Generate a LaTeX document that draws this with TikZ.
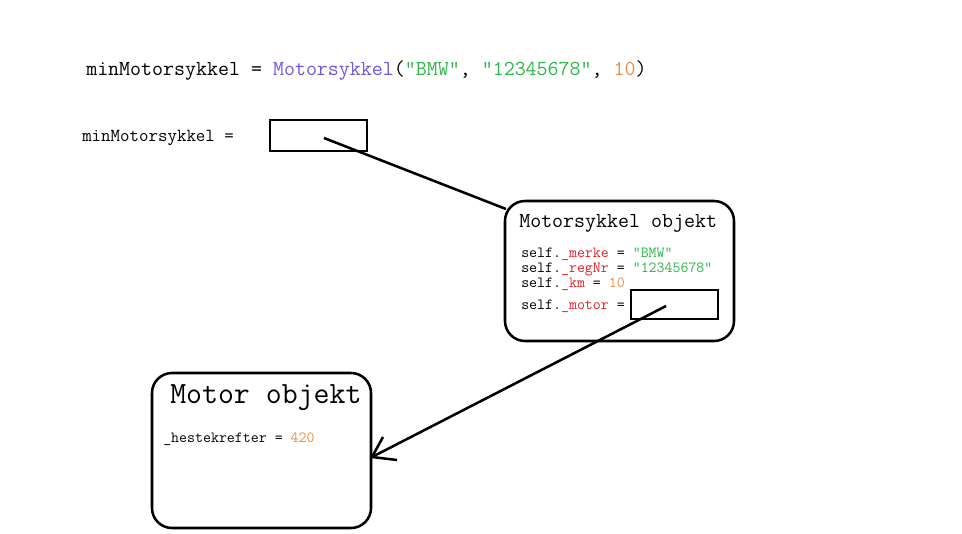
\documentclass[tikz,border=0pt]{standalone}
\usepackage{fontspec}
\definecolor{cls}{HTML}{6A5ADC}
\definecolor{str}{HTML}{2DB84B}
\definecolor{num}{HTML}{F28C3C}
\definecolor{attr}{HTML}{E8202A}
\newcommand\dq{\char34\relax}
\tikzset{
  txt/.style={inner sep=0pt, anchor=base west},
  box/.style={draw=black, line width=1.9pt},
  obj/.style={draw=black, line width=1.9pt, rounded corners=15pt},
  link/.style={line width=1.9pt}
}
\begin{document}
\begin{tikzpicture}[x=0.75pt,y=-0.75pt]
\useasboundingbox[fill=white] (0,0) rectangle (962,533);
% top line
\node[txt, font=\ttfamily\fontsize{16pt}{18pt}\selectfont] (call) at (86,75)
  {minMotorsykkel = \textcolor{cls}{Motorsykkel}(\textcolor{str}{\dq BMW\dq}, \textcolor{str}{\dq 12345678\dq}, \textcolor{num}{10})};
% reference variable
\node[txt, font=\ttfamily\fontsize{13.8pt}{16pt}\selectfont] (var) at (82,141) {minMotorsykkel =};
\draw[box] (270,120) rectangle (367,151);
\coordinate (refbox) at (324,138);
% motorsykkel object
\draw[obj] (505,201) rectangle (734,341);
\coordinate (objcorner) at (506,209);
\node[txt, font=\ttfamily\fontsize{16pt}{18pt}\selectfont] (mtitle) at (519,227.3) {Motorsykkel objekt};
\node[txt, font=\ttfamily\fontsize{11.6pt}{13pt}\selectfont] (l1) at (521,257.3) {self.\textcolor{attr}{\_merke} = \textcolor{str}{\dq BMW\dq}};
\node[txt, font=\ttfamily\fontsize{11.6pt}{13pt}\selectfont] (l2) at (521,272.5) {self.\textcolor{attr}{\_regNr} = \textcolor{str}{\dq 12345678\dq}};
\node[txt, font=\ttfamily\fontsize{11.6pt}{13pt}\selectfont] (l3) at (521,287.7) {self.\textcolor{attr}{\_km} = \textcolor{num}{10}};
\node[txt, font=\ttfamily\fontsize{11.6pt}{13pt}\selectfont] (l4) at (521,309) {self.\textcolor{attr}{\_motor} =};
\draw[box] (631,290) rectangle (718,319);
\coordinate (motorref) at (666,306);
% motor object
\draw[obj] (152,373) rectangle (371,528);
\node[txt, font=\ttfamily\fontsize{23.2pt}{26pt}\selectfont] (ttitle) at (170,403.3) {Motor objekt};
\node[txt, font=\ttfamily\fontsize{11.6pt}{13pt}\selectfont] (hk) at (163,442.3) {\_hestekrefter = \textcolor{num}{420}};
\coordinate (tip) at (372,457);
\coordinate (barbA) at (383,437);
\coordinate (barbB) at (397,460);
% connectors
\draw[link] (refbox) -- (objcorner);
\draw[link] (motorref) -- (tip);
\draw[link] (barbA) -- (tip) -- (barbB);
\end{tikzpicture}
\end{document}
